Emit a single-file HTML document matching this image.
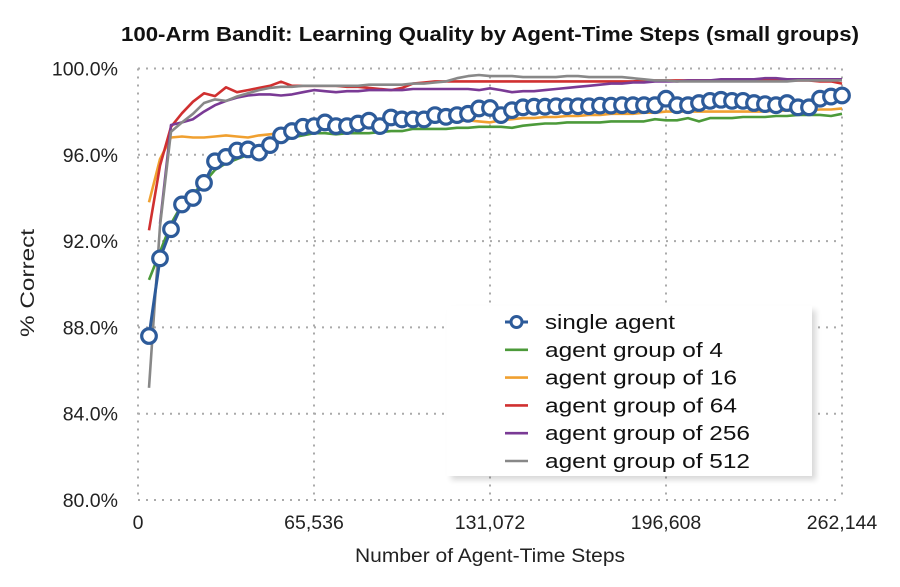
<!DOCTYPE html>
<html><head><meta charset="utf-8"><style>
html,body{margin:0;padding:0;background:#fff;}
svg{display:block;font-family:"Liberation Sans",sans-serif;}
</style></head><body>
<svg id="chart" width="900" height="587" viewBox="0 0 900 587">
<text x="490" y="41" text-anchor="middle" font-size="20" font-weight="bold" fill="#111" textLength="738" lengthAdjust="spacingAndGlyphs">100-Arm Bandit: Learning Quality by Agent-Time Steps (small groups)</text>
<g id="grid"></g>
<g id="axes"></g>
<g id="series"></g>
<text x="490" y="562" text-anchor="middle" font-size="19" fill="#222" textLength="270" lengthAdjust="spacingAndGlyphs">Number of Agent-Time Steps</text>
<text transform="translate(34,283) rotate(-90)" text-anchor="middle" font-size="19" fill="#222" textLength="108" lengthAdjust="spacingAndGlyphs">% Correct</text>
<g>
<rect x="451" y="310" width="365" height="170" fill="#000" opacity="0.15" filter="blur(3px)"/>
<rect x="447" y="306" width="365" height="170" fill="#fff"/>
<g id="legend"></g>
</g>
</svg>
<script>
const xTicks=[0,65536,131072,196608,262144];
const xTickLabels=["0","65,536","131,072","196,608","262,144"];
const yTicks=[80,84,88,92,96,100];
const yTickLabels=["80.0%","84.0%","88.0%","92.0%","96.0%","100.0%"];
const stepSize=4096;
const seriesNames=["single agent","agent group of 4","agent group of 16","agent group of 64","agent group of 256","agent group of 512"];
const seriesColors=["#2d5b9a","#4c9a3a","#f0a030","#d03030","#7a3a95","#888888"];
const single=[87.6,91.2,92.55,93.7,94.0,94.7,95.7,95.9,96.2,96.25,96.1,96.45,96.9,97.1,97.3,97.33,97.5,97.33,97.33,97.45,97.58,97.33,97.73,97.64,97.64,97.64,97.84,97.76,97.84,97.9,98.15,98.17,97.84,98.07,98.2,98.23,98.23,98.25,98.25,98.25,98.25,98.28,98.28,98.3,98.3,98.3,98.3,98.6,98.3,98.3,98.4,98.5,98.55,98.5,98.5,98.4,98.35,98.3,98.4,98.2,98.2,98.6,98.7,98.75];
const group4=[90.2,91.5,92.8,93.7,94.2,94.7,95.3,95.6,95.8,96.0,96.2,96.4,96.6,96.8,96.9,97.0,97.0,96.95,97.0,97.0,97.0,97.05,97.1,97.1,97.2,97.2,97.2,97.2,97.25,97.25,97.3,97.3,97.3,97.25,97.35,97.4,97.45,97.45,97.5,97.5,97.5,97.5,97.55,97.55,97.55,97.55,97.65,97.6,97.6,97.7,97.55,97.7,97.7,97.7,97.75,97.75,97.75,97.8,97.8,97.85,97.85,97.85,97.8,97.9];
const group16=[93.8,95.8,96.8,96.85,96.8,96.8,96.85,96.9,96.85,96.8,96.9,96.95,97.0,97.2,97.15,97.2,97.25,97.3,97.3,97.35,97.4,97.4,97.45,97.45,97.5,97.5,97.55,97.55,97.55,97.6,97.55,97.5,97.6,97.65,97.7,97.7,97.75,97.75,97.8,97.8,97.85,97.85,97.9,97.9,97.9,97.95,97.95,98.0,98.0,98.0,98.0,98.0,98.0,98.0,98.0,98.0,98.0,98.05,98.05,98.05,98.05,98.1,98.1,98.15];
const group64=[92.5,95.5,97.3,97.93,98.46,98.85,98.72,99.13,98.9,99.0,99.1,99.2,99.39,99.2,99.2,99.2,99.2,99.2,99.15,99.15,99.1,99.05,99.0,99.1,99.3,99.35,99.4,99.4,99.4,99.4,99.4,99.4,99.4,99.4,99.4,99.4,99.4,99.4,99.4,99.4,99.4,99.4,99.4,99.4,99.4,99.45,99.45,99.45,99.45,99.45,99.45,99.45,99.45,99.45,99.45,99.45,99.45,99.45,99.45,99.45,99.45,99.4,99.4,99.3];
const group256=[null,92.8,97.38,97.5,97.65,98.0,98.3,98.5,98.65,98.75,98.8,98.8,98.75,98.8,98.9,99.0,98.95,98.9,98.95,98.95,99.0,99.0,99.0,99.0,99.05,99.05,99.05,99.05,99.05,99.05,99.0,99.08,99.0,98.9,98.95,98.95,99.0,99.05,99.1,99.15,99.2,99.25,99.3,99.3,99.35,99.35,99.4,99.4,99.4,99.45,99.45,99.45,99.5,99.5,99.5,99.5,99.55,99.55,99.5,99.5,99.5,99.5,99.5,99.5];
const group512=[85.2,92.7,97.07,97.5,97.9,98.4,98.57,98.5,98.7,98.85,99.0,99.1,99.15,99.15,99.2,99.2,99.2,99.2,99.2,99.2,99.25,99.25,99.25,99.25,99.3,99.3,99.35,99.4,99.55,99.65,99.7,99.65,99.65,99.65,99.6,99.6,99.6,99.6,99.65,99.65,99.6,99.6,99.6,99.6,99.55,99.5,99.45,99.45,99.4,99.4,99.4,99.4,99.4,99.4,99.4,99.4,99.4,99.4,99.4,99.45,99.45,99.45,99.45,99.45];
const allSeries=[single,group4,group16,group64,group256,group512];

const NS="http://www.w3.org/2000/svg";
const X0=138,X1=842,Y0=500,Y1=68.5;
function xs(v){return X0+(v-0)/(262144)*(X1-X0);}
function ys(v){return Y0-(v-80)/20*(Y0-Y1);}
function mk(tag,attrs,parent){const e=document.createElementNS(NS,tag);for(const k in attrs)e.setAttribute(k,attrs[k]);parent.appendChild(e);return e;}
const grid=document.getElementById('grid'),axes=document.getElementById('axes'),ser=document.getElementById('series'),leg=document.getElementById('legend');
yTicks.forEach((t,i)=>{
  const l=mk('line',{x1:X0,x2:X1,y1:ys(t),y2:ys(t),stroke:'#aaa','stroke-width':2,'stroke-dasharray':'2,6'},grid);
  
  
  const tx=mk('text',{x:118,y:ys(t)+7,'text-anchor':'end','font-size':19.5,fill:'#222'},axes);
  tx.textContent=yTickLabels[i];
  
  
});
xTicks.forEach((t,i)=>{
  const l=mk('line',{x1:xs(t),x2:xs(t),y1:Y1,y2:Y0,stroke:'#aaa','stroke-width':2,'stroke-dasharray':'2,6'},grid);
  
  
  const tx=mk('text',{x:xs(t),y:529,'text-anchor':'middle','font-size':19.5,fill:'#222'},axes);
  tx.textContent=xTickLabels[i];
  
  
});
[1,2,3,4,5,0].forEach(si=>{
  const d=allSeries[si];let pts=[];
  d.forEach((v,i)=>{if(v!==null)pts.push(xs((i+1)*stepSize).toFixed(1)+','+ys(v).toFixed(1));});
  const p=mk('polyline',{points:pts.join(' '),fill:'none',stroke:seriesColors[si],'stroke-width':si===0?3:2.6,'stroke-linejoin':'round'},ser);
  
  
  if(si===0){
    d.forEach((v,i)=>{
      const c=mk('circle',{cx:xs((i+1)*stepSize),cy:ys(v),r:7.3,fill:'#fff',stroke:seriesColors[0],'stroke-width':3.2},ser);
      
      
    });
  }
});
const legLens=[130,178,192,192,205,205];
seriesNames.forEach((n,i)=>{
  const y=322+i*27.8;
  const g=mk('g',{},leg);
  
  
  mk('line',{x1:505,x2:528,y1:y,y2:y,stroke:seriesColors[i],'stroke-width':i===0?3:2.6},g);
  if(i===0)mk('circle',{cx:516.5,cy:y,r:5.5,fill:'#fff',stroke:seriesColors[0],'stroke-width':3},g);
  const t=mk('text',{x:545,y:y+7,'font-size':20,fill:'#111',textLength:legLens[i],lengthAdjust:'spacingAndGlyphs'},g);
  t.textContent=n;
});
</script>
</body></html>
